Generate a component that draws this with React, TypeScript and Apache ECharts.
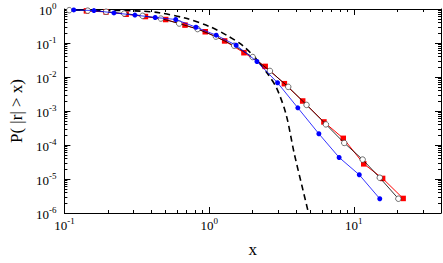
import React, { useEffect, useRef } from "react";
import * as echarts from "echarts";

// Red squares
const redX = [0.142, 0.194, 0.267, 0.363, 0.501, 0.681, 0.94, 1.28, 1.74, 2.44, 3.31, 4.43, 6.21, 8.45, 11.7, 15.8, 21.9];
const redY = [0.88, 0.82, 0.70, 0.60, 0.49, 0.336, 0.214, 0.115, 0.0518, 0.0205, 0.00636, 0.00197, 4.77e-4, 1.57e-4, 2.79e-5, 1.04e-5, 2.68e-6];

// Black open circles
const blackX = [0.108, 0.145, 0.194, 0.259, 0.347, 0.464, 0.621, 0.832, 1.114, 1.49, 2.0, 2.63, 3.52, 4.71, 6.41, 8.58, 11.5, 15.1, 20.3];
const blackY = [0.923, 0.895, 0.831, 0.735, 0.63, 0.523, 0.373, 0.257, 0.154, 0.0832, 0.0387, 0.0151, 0.00513, 0.00151, 4.04e-4, 1.15e-4, 3.73e-5, 1.09e-5, 2.63e-6];

// Blue filled dots
const blueX = [0.116, 0.16, 0.22, 0.307, 0.424, 0.588, 0.811, 1.119, 1.537, 2.14, 2.97, 4.1, 5.73, 7.91, 10.9, 15.1];
const blueY = [0.94, 0.9, 0.767, 0.662, 0.563, 0.492, 0.291, 0.17, 0.0859, 0.0285, 0.00676, 0.00124, 2.14e-4, 4.3e-5, 1.33e-5, 2.63e-6];

// Dashed reference curve
const dashX = [0.1, 0.209, 0.347, 0.45, 0.681, 1.016, 1.353, 1.7, 2.09, 2.5, 2.92, 3.4, 3.86, 4.39, 4.86];
const dashY = [0.95, 0.91, 0.86, 0.78, 0.54, 0.3, 0.16, 0.085, 0.036, 0.0135, 0.0048, 8.0e-4, 6.0e-5, 6.0e-6, 1.0e-6];

// Axis ticks
const xMajor = [0.1, 1, 10];
const xMinor = [0.2, 0.3, 0.4, 0.5, 0.6, 0.7, 0.8, 0.9, 2, 3, 4, 5, 6, 7, 8, 9, 20, 30, 40];
const yMajor = [1e-6, 1e-5, 1e-4, 1e-3, 1e-2, 1e-1, 1];
const yMinor: number[] = [];
[1e-6, 1e-5, 1e-4, 1e-3, 1e-2, 1e-1].forEach((d) => {
  [2, 3, 4, 5, 6, 7, 8, 9].forEach((m) => yMinor.push(+(d * m).toPrecision(3)));
});

const pairs = (xs: number[], ys: number[]) => xs.map((x, i) => [x, ys[i]]);

const FONT = "Liberation Serif";

export default function App() {
  const ref = useRef<HTMLDivElement>(null);
  useEffect(() => {
    if (!ref.current) return;
    const chart = echarts.init(ref.current, undefined, { renderer: "svg" });
    const rich = {
      b: { fontSize: 13, fontFamily: FONT, color: "#000", lineHeight: 16, verticalAlign: "bottom" },
      e: { fontSize: 9, fontFamily: FONT, color: "#000", lineHeight: 16, verticalAlign: "top" },
    };
    const fmt = (v: number) => `{b|10}{e|${Math.round(Math.log10(v))}}`;
    const line = { show: true, lineStyle: { color: "#000", width: 1 } };
    const major = (vals: number[]) => ({ inside: true, length: 6, customValues: vals, lineStyle: { color: "#000", width: 1 } });
    const minor = (vals: number[]) => ({ inside: true, length: 3, customValues: vals, lineStyle: { color: "#000", width: 1 } });
    const xBase = { type: "log", logBase: 10, min: 0.1, max: 40, splitLine: { show: false }, minorTick: { show: false } };
    const yBase = { type: "log", logBase: 10, min: 1e-6, max: 1, splitLine: { show: false }, minorTick: { show: false } };
    chart.setOption({
      animation: false,
      grid: { left: 52, right: 2, top: 9, bottom: 30, containLabel: false },
      xAxis: [
        {
          ...xBase, position: "bottom", axisLine: line, axisTick: major(xMajor),
          axisLabel: { customValues: xMajor, formatter: fmt, rich, margin: 3 },
          name: "x", nameLocation: "middle", nameGap: 28,
          nameTextStyle: { fontFamily: FONT, fontSize: 17, color: "#000" },
        },
        { ...xBase, position: "bottom", axisLine: { show: false }, axisTick: minor(xMinor), axisLabel: { show: false } },
        { ...xBase, position: "top", axisLine: line, axisTick: major(xMajor), axisLabel: { show: false } },
        { ...xBase, position: "top", axisLine: { show: false }, axisTick: minor(xMinor), axisLabel: { show: false } },
      ],
      yAxis: [
        {
          ...yBase, position: "left", axisLine: line, axisTick: major(yMajor),
          axisLabel: { customValues: yMajor, formatter: fmt, rich, margin: 8 },
          name: "P( |r| > x)", nameLocation: "middle", nameGap: 38, nameRotate: 90,
          nameTextStyle: { fontFamily: FONT, fontSize: 17, color: "#000" },
        },
        { ...yBase, position: "left", axisLine: { show: false }, axisTick: minor(yMinor), axisLabel: { show: false } },
        { ...yBase, position: "right", axisLine: line, axisTick: major(yMajor), axisLabel: { show: false } },
        { ...yBase, position: "right", axisLine: { show: false }, axisTick: minor(yMinor), axisLabel: { show: false } },
      ],
      series: [
        {
          type: "line", data: pairs(dashX, dashY), smooth: 0.3, showSymbol: false, symbol: "none",
          lineStyle: { color: "#000", width: 1.6, type: [6, 4] }, z: 2,
        },
        {
          type: "line", data: pairs(redX, redY), symbol: "rect", symbolSize: 5.5,
          lineStyle: { color: "#ff0000", width: 1 }, itemStyle: { color: "#ff0000" }, z: 3,
        },
        {
          type: "line", data: pairs(blackX, blackY), symbol: "circle", symbolSize: 5.5,
          lineStyle: { color: "#000", width: 0.8 },
          itemStyle: { color: "#ffffff", borderColor: "#333", borderWidth: 0.7 }, z: 4,
        },
        {
          type: "line", data: pairs(blueX, blueY), symbol: "circle", symbolSize: 5,
          lineStyle: { color: "#0000ff", width: 0.8 }, itemStyle: { color: "#0000ff" }, z: 5,
        },
      ],
    });
    return () => chart.dispose();
  }, []);
  return (
    <div
      ref={ref}
      style={{ position: "absolute", left: 0, top: 0, width: 443, height: 263, background: "#fff" }}
    />
  );
}
